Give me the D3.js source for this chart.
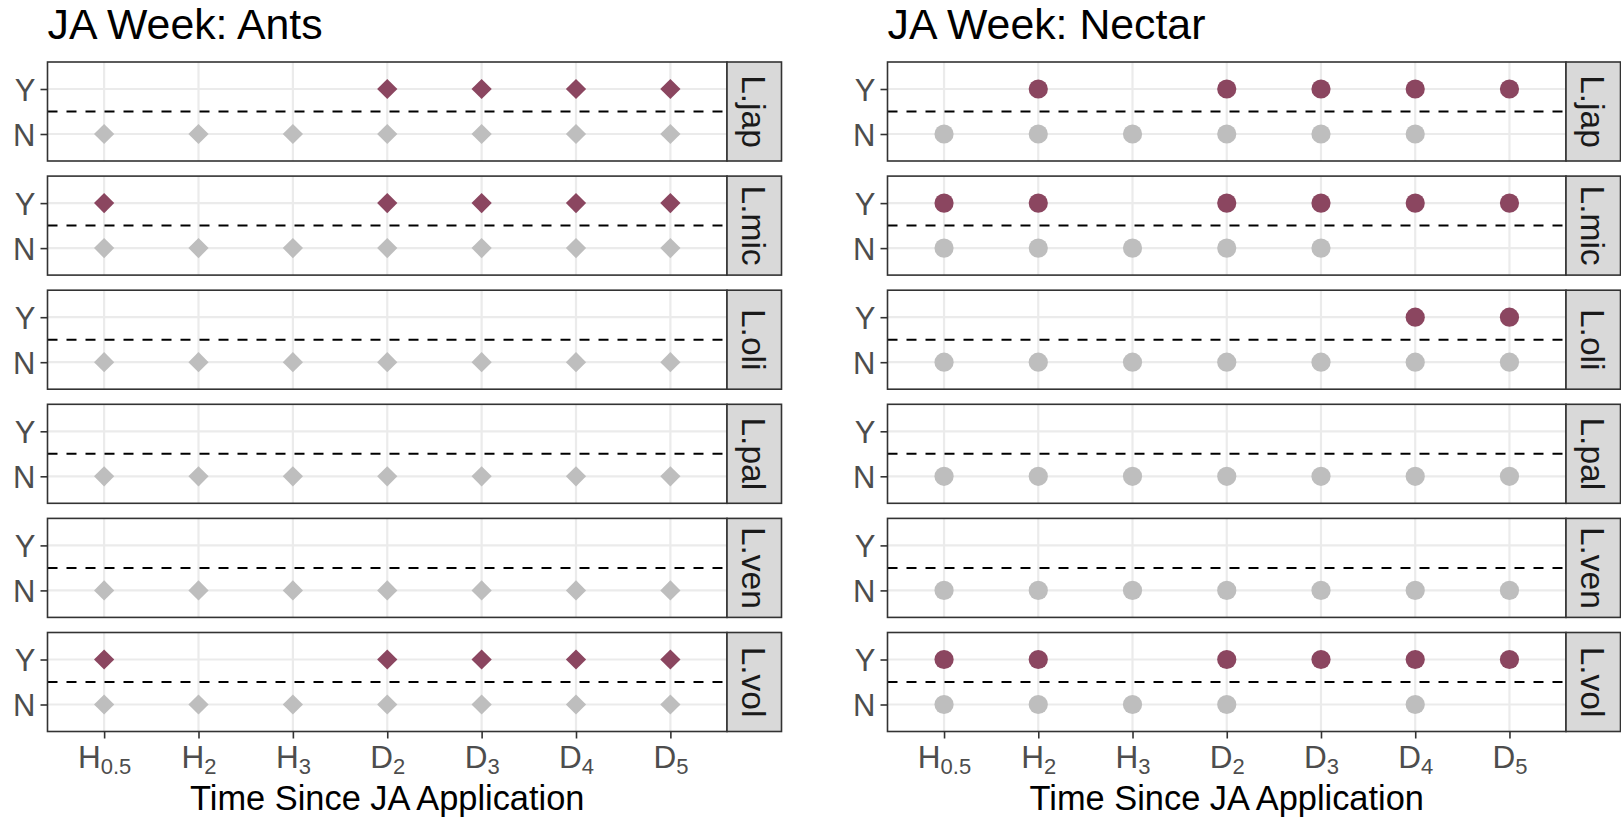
<!DOCTYPE html>
<html>
<head>
<meta charset="utf-8">
<script src="https://cdn.jsdelivr.net/npm/d3@7"></script>
<style>
  html, body { margin: 0; padding: 0; background: #fff; }
  svg { display: block; font-family: "Liberation Sans", Arial, sans-serif; }
</style>
</head>
<body>
<svg id="chart" width="1621" height="822"></svg>
<script>
// ---------- data ----------
const categories = ["H0.5", "H2", "H3", "D2", "D3", "D4", "D5"];
const tickMain = ["H", "H", "H", "D", "D", "D", "D"];
const tickSub = ["0.5", "2", "3", "2", "3", "4", "5"];
const yLevels = ["Y", "N"];
const species = ["L.jap", "L.mic", "L.oli", "L.pal", "L.ven", "L.vol"];

// 1 = a point is present at that time for that level
const antsYes = [
  [0, 0, 0, 1, 1, 1, 1],
  [1, 0, 0, 1, 1, 1, 1],
  [0, 0, 0, 0, 0, 0, 0],
  [0, 0, 0, 0, 0, 0, 0],
  [0, 0, 0, 0, 0, 0, 0],
  [1, 0, 0, 1, 1, 1, 1]
];
const antsNo = [
  [1, 1, 1, 1, 1, 1, 1],
  [1, 1, 1, 1, 1, 1, 1],
  [1, 1, 1, 1, 1, 1, 1],
  [1, 1, 1, 1, 1, 1, 1],
  [1, 1, 1, 1, 1, 1, 1],
  [1, 1, 1, 1, 1, 1, 1]
];
const nectarYes = [
  [0, 1, 0, 1, 1, 1, 1],
  [1, 1, 0, 1, 1, 1, 1],
  [0, 0, 0, 0, 0, 1, 1],
  [0, 0, 0, 0, 0, 0, 0],
  [0, 0, 0, 0, 0, 0, 0],
  [1, 1, 0, 1, 1, 1, 1]
];
const nectarNo = [
  [1, 1, 1, 1, 1, 1, 0],
  [1, 1, 1, 1, 1, 0, 0],
  [1, 1, 1, 1, 1, 1, 1],
  [1, 1, 1, 1, 1, 1, 1],
  [1, 1, 1, 1, 1, 1, 1],
  [1, 1, 1, 1, 0, 1, 0]
];

const titles = ["JA Week: Ants", "JA Week: Nectar"];
const xTitle = "Time Since JA Application";

// ---------- styling / layout ----------
const colYes = "#8B4660";
const colNo = "#BEBEBE";
const gridCol = "#EBEBEB";
const borderCol = "#333333";

const svg = d3.select("#chart");

const panelTop0 = 62;
const panelH = 99;
const panelStep = 114.1;
const stripW = 54.5;

const charts = [
  { title: titles[0], x0: 47.5, x1: 727, yes: antsYes, no: antsNo, shape: "diamond" },
  { title: titles[1], x0: 887.5, x1: 1566, yes: nectarYes, no: nectarNo, shape: "circle" }
];

charts.forEach(ch => {
  const g = svg.append("g");
  const x = d3.scalePoint().domain(categories).range([ch.x0, ch.x1]).padding(0.6);

  // title
  g.append("text")
    .attr("x", ch.x0)
    .attr("y", 38.5)
    .attr("font-size", 42.8)
    .attr("fill", "#000")
    .text(ch.title);

  species.forEach((sp, si) => {
    const top = panelTop0 + si * panelStep;
    const bottom = top + panelH;
    const y = d3.scalePoint().domain(yLevels).range([top, bottom]).padding(0.6);
    const pg = g.append("g");

    // background
    pg.append("rect").attr("x", ch.x0).attr("y", top)
      .attr("width", ch.x1 - ch.x0).attr("height", panelH).attr("fill", "#fff");

    // grid lines
    pg.selectAll("line.vg").data(categories).enter().append("line")
      .attr("x1", d => x(d)).attr("x2", d => x(d))
      .attr("y1", top).attr("y2", bottom)
      .attr("stroke", gridCol).attr("stroke-width", 2.2);
    pg.selectAll("line.hg").data(yLevels).enter().append("line")
      .attr("x1", ch.x0).attr("x2", ch.x1)
      .attr("y1", d => y(d)).attr("y2", d => y(d))
      .attr("stroke", gridCol).attr("stroke-width", 2.2);

    // dashed divider between Y and N
    const mid = (y("Y") + y("N")) / 2;
    pg.append("line")
      .attr("x1", ch.x0).attr("x2", ch.x1)
      .attr("y1", mid).attr("y2", mid)
      .attr("stroke", "#000").attr("stroke-width", 2)
      .attr("stroke-dasharray", "10,9");

    // points
    const pts = [];
    categories.forEach((c, ci) => {
      if (ch.no[si][ci]) pts.push({ c: c, lvl: "N" });
      if (ch.yes[si][ci]) pts.push({ c: c, lvl: "Y" });
    });
    const sym = ch.shape === "diamond"
      ? d3.symbol().type(d3.symbolSquare).size(205)
      : d3.symbol().type(d3.symbolCircle).size(Math.PI * 9.6 * 9.6);
    pg.selectAll("path.pt").data(pts).enter().append("path")
      .attr("d", sym)
      .attr("transform", d => `translate(${x(d.c)},${y(d.lvl)})` + (ch.shape === "diamond" ? " rotate(45)" : ""))
      .attr("fill", d => d.lvl === "Y" ? colYes : colNo);

    // border
    pg.append("rect").attr("x", ch.x0).attr("y", top)
      .attr("width", ch.x1 - ch.x0).attr("height", panelH)
      .attr("fill", "none").attr("stroke", borderCol).attr("stroke-width", 1.6);

    // strip
    pg.append("rect").attr("x", ch.x1).attr("y", top)
      .attr("width", stripW).attr("height", panelH)
      .attr("fill", "#D9D9D9").attr("stroke", borderCol).attr("stroke-width", 1.6);
    const cx = ch.x1 + stripW / 2, cy = top + panelH / 2;
    pg.append("text")
      .attr("transform", `translate(${cx},${cy}) rotate(90)`)
      .attr("text-anchor", "middle")
      .attr("dy", "0.36em")
      .attr("font-size", 33.5)
      .attr("fill", "#1A1A1A")
      .text(sp);

    // y axis
    const ya = pg.append("g").attr("transform", `translate(${ch.x0},0)`)
      .call(d3.axisLeft(y).tickSize(7).tickPadding(5));
    ya.select(".domain").remove();
    ya.selectAll(".tick line").attr("stroke", borderCol).attr("stroke-width", 1.6);
    ya.selectAll(".tick text").attr("font-size", 31).attr("fill", "#4D4D4D")
      .attr("font-family", "Liberation Sans, Arial, sans-serif").attr("dy", "0.36em");

    // x axis on last panel
    if (si === species.length - 1) {
      const xa = pg.append("g").attr("transform", `translate(0,${bottom})`)
        .call(d3.axisBottom(x).tickSize(7));
      xa.select(".domain").remove();
      xa.selectAll(".tick line").attr("stroke", borderCol).attr("stroke-width", 1.6);
      xa.selectAll(".tick text").each(function (d) {
        const i = categories.indexOf(d);
        const t = d3.select(this);
        t.text(null).attr("dy", null).attr("y", 36.5)
          .attr("fill", "#4D4D4D")
          .attr("font-family", "Liberation Sans, Arial, sans-serif")
          .attr("text-anchor", "middle");
        t.append("tspan").attr("font-size", 31.5).text(tickMain[i]);
        t.append("tspan").attr("font-size", 22).attr("dy", 6).text(tickSub[i]);
      });

      // axis title
      g.append("text")
        .attr("x", (ch.x0 + ch.x1) / 2)
        .attr("y", 810)
        .attr("text-anchor", "middle")
        .attr("font-size", 34.4)
        .attr("fill", "#000")
        .text(xTitle);
    }
  });
});
</script>
</body>
</html>
